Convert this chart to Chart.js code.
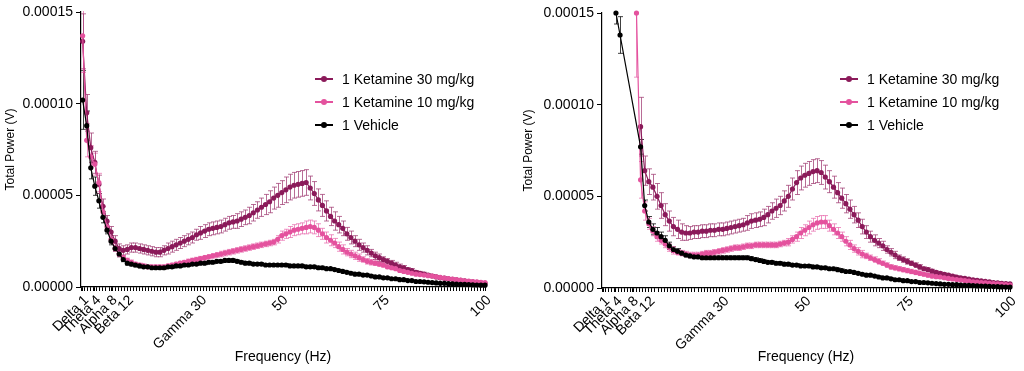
<!DOCTYPE html>
<html>
<head>
<meta charset="utf-8">
<script src="https://cdn.jsdelivr.net/npm/chart.js@4.4.0/dist/chart.umd.min.js"></script>
<style>
  body { margin:0; background:#fff; width:1024px; height:371px; overflow:hidden;
         font-family:"Liberation Sans", Arial, Helvetica, sans-serif; }
  .panel { position:absolute; top:0; width:512px; height:371px; }
  .legend { position:absolute; font-size:14px; color:#000; }
  .legend .row { position:relative; height:23px; line-height:18px; padding-left:27px; white-space:nowrap; }
  .legend .mk { position:absolute; left:0; top:8px; width:18px; height:1.5px; }
  .legend .mk i { position:absolute; left:6px; top:-2.5px; width:6px; height:6px; border-radius:50%; }
</style>
</head>
<body>
<div class="panel" style="left:0"><canvas id="left" width="512" height="371"></canvas></div>
<div class="panel" style="left:512px"><canvas id="right" width="512" height="371"></canvas></div>
<div class="legend" id="legLeft" style="left:315px;top:70px"></div>
<div class="legend" id="legRight" style="left:840px;top:70px"></div>
<script>
// values in microvolts (x 1e-6 V), one point per Hz
const freqHz = [1,2,3,4,5,6,7,8,9,10,11,12,13,14,15,16,17,18,19,20,
  21,22,23,24,25,26,27,28,29,30,31,32,33,34,35,36,37,38,39,40,
  41,42,43,44,45,46,47,48,49,50,51,52,53,54,55,56,57,58,59,60,
  61,62,63,64,65,66,67,68,69,70,71,72,73,74,75,76,77,78,79,80,
  81,82,83,84,85,86,87,88,89,90,91,92,93,94,95,96,97,98,99,100];

const seriesNames = ['1 Ketamine 30 mg/kg', '1 Ketamine 10 mg/kg', '1 Vehicle'];
const seriesColors = ['#8b1a5a', '#e4529e', '#000000'];
const errorColors = ['rgba(160,60,115,0.75)', 'rgba(232,110,175,0.75)', 'rgba(0,0,0,0.75)'];

const xTickValues = [1, 4, 8, 12, 30, 50, 75, 100];
const xTickLabels = ['Delta 1', 'Theta 4', 'Alpha 8', 'Beta 12', 'Gamma 30', '50', '75', '100'];
const yTickValues = [0, 50, 100, 150];

// left panel
const leftK30 = [134,95,76,68,56,44,36,30,25,21, 20,20.5,21.5,21.5,21,20.5,20,19.5,19,19,
  20,21,22,23,24,25,26,27,28.5,29.5, 30.5,31.5,32,32.5,33,34,35,35.5,36,37,
  38,39,40.5,42,43.5,45,46.5,48.5,50,51.5, 53,54.5,55.5,56,56.5,57,54,51,47.5,44.5,
  41.5,38.5,36,34,32,29,27,25,23,21.5, 20,18.5,17,16,15,14,13,12,11,10.5,
  9.5,9,8,7.5,7,6.5,6,5.5,5,4.8, 4.5,4.2,3.9,3.6,3.3,3,2.8,2.5,2.2,2];
const leftK30Err = [15,10,8,6,5,4,3,3,3,2.5, 2.5,2.5,2.5,2.5,2.5,2.5,2.5,2.5,2.5,2.5,
  2.5,3,3,3,3,3,3,3,3,3.5, 3.5,3.5,3.5,3.5,3.5,3.5,3.5,3.5,4,4,
  4,4.5,4.5,4.5,5,5.5,6,6,6.5,6.5, 7,7,7,7,7,7,6.5,6.5,6,6,
  5.5,5,5,4.5,4,3.5,3.5,3,3,2.5, 2.5,2,2,2,1.5,1.5,1.5,1.5,1.5,1.2,
  1,1,1,1,1,0.8,0.8,0.8,0.7,0.7, 0.6,0.6,0.5,0.5,0.5,0.5,0.4,0.4,0.4,0.4];
const leftK10 = [137,80,71,67,57,41,33,26,21,18, 16,14.5,13.5,12.5,12,11.5,11,11,11,11,
  11,11.5,12,12.5,13,13.5,14,14.5,15,15.5, 16,16.5,17,17.5,18,18.5,19,19.5,20,20.5,
  21,21.5,22,22.5,23,23.5,24,24.5,26,28, 29,30,31,31.5,32,32.5,33,32.5,31,29,
  27,25.5,24,22,20.5,19,18,17,16,15, 14,13.5,13,12.5,12,11,10.5,10,9,8.5,
  8,7.5,7,6.8,6.5,6.2,6,5.6,5.2,4.9, 4.6,4.3,4,3.7,3.4,3.2,3,2.8,2.6,2.4];
const leftK10Err = [20,9,6,6,5,3,2.5,2,1.5,1.5, 1.2,1.2,1.2,1,1,1,1,1,1,1,
  1,1,1,1,1,1,1.2,1.2,1.2,1.2, 1.2,1.2,1.2,1.2,1.5,1.5,1.5,1.5,1.5,1.5,
  1.5,1.5,1.5,1.5,1.5,1.5,1.5,1.5,2,2.5, 2.5,3,3,3,3,3.5,3.5,3.5,3.5,3,
  3,3,2.5,2.5,2.5,2,2,2,2,1.5, 1.5,1.5,1.2,1.2,1.2,1,1,1,1,0.8,
  0.8,0.8,0.7,0.7,0.7,0.6,0.6,0.6,0.5,0.5, 0.5,0.5,0.4,0.4,0.4,0.4,0.3,0.3,0.3,0.3];
const leftVeh = [102,88,65,55,47,38,31,25,21,18, 15,13,12.5,12,11.5,11,11,10.5,10.5,10.5,
  10.5,11,11,11.5,11.5,12,12,12.5,12.5,13, 13,13.5,13.5,14,14,14.5,14.5,14.5,14,13.5,
  13,13,12.5,12.5,12.5,12,12,12,12,12, 12,11.5,11.5,11.5,11.5,11,11,11,10.5,10.5,
  10,10,9.5,9,8.5,8,7.5,7,7,6.5, 6.5,6,5.5,5.5,5,5,4.5,4.5,4,4,
  3.5,3.5,3,3,2.8,2.6,2.4,2.2,2,2, 1.8,1.7,1.6,1.5,1.4,1.3,1.2,1.1,1,1];
const leftVehErr = [16,8,6,5,4,3,2,2,1.5,1.5, 1.2,1,1,1,1,0.8,0.8,0.8,0.8,0.8,
  0.8,0.8,0.8,0.8,0.8,0.8,0.8,0.8,0.8,0.8, 0.8,0.8,0.8,0.8,0.8,0.8,0.8,0.8,0.8,0.8,
  0.8,0.8,0.8,0.8,0.8,0.8,0.8,0.8,0.8,0.8, 0.8,0.8,0.8,0.8,0.8,0.8,0.8,0.8,0.8,0.8,
  0.6,0.6,0.6,0.6,0.6,0.6,0.6,0.6,0.6,0.6, 0.6,0.6,0.6,0.6,0.6,0.6,0.6,0.6,0.6,0.6,
  0.4,0.4,0.4,0.4,0.4,0.4,0.4,0.4,0.4,0.4, 0.4,0.4,0.4,0.4,0.4,0.4,0.4,0.4,0.4,0.4];

// right panel (low bins off scale are left out)
const rightK30 = [null,null,null,null,null,null,null,null,null,
  88,64,58,55,50,45,40,36.5,33.5,32, 30.5,30,30,30.5,30.5,31,31,31.5,31.5,32,
  32,32.5,33,33.5,34,34.5,35.5,36.5,37,37.5, 38.5,40,42,43.5,45,47.5,50,54,57.5,60,
  61.5,62.5,63.5,64,63,60.5,58,55,52,49, 46,43,40,37,33.5,30.5,28,26,24.5,23,
  21,19.5,18,16.5,15.5,14.5,13.5,12.5,11.5,10.5, 10,9.2,8.5,8,7.5,7,6.5,6,5.6,5.2,
  4.8,4.5,4.2,3.9,3.6,3.3,3,2.8,2.6,2.4,2.2];
const rightK30Err = [null,null,null,null,null,null,null,null,null,
  16,8,7,7,7,7,6,5.5,5,5, 4.5,4,3.5,3.5,3.5,3.5,3.5,3.5,3.5,3.5,
  3.5,3.5,3.5,3.5,3.5,3.5,4,4,4,4, 4.5,4.5,4.5,5,5,5.5,6,6,6.5,6.5,
  6.5,6.5,6.5,6.5,6.5,6.5,6,6,5.5,5.5, 5,5,4.5,4,4,3.5,3,3,2.5,2.5,
  2,2,2,1.5,1.5,1.5,1.2,1.2,1.2,1, 1,1,0.8,0.8,0.8,0.7,0.7,0.6,0.6,0.6,
  0.5,0.5,0.5,0.5,0.4,0.4,0.4,0.4,0.3,0.3,0.3];
const rightK10 = [null,null,null,null,null,null,null,null,
  150,59,42,35,31,28,26,24,22,20.5, 19.5,19,18.5,18,18,18,18.5,19,19,19.5,
  20,20.5,21,21.5,22,22,22.5,23,23,23.5, 23.5,23.5,23.5,23.5,23.5,24,24.5,25,26.5,28,
  30,31.5,33,34.5,35.5,36,36,34,32,30, 28,25.5,23.5,21.5,20,18.5,17.5,16.5,15.5,14.5,
  13.5,12.5,11.5,11,10.5,10,9.5,9,8.5,8, 7.5,7,6.5,6.2,6,5.6,5.2,4.9,4.6,4.3,
  4,3.7,3.4,3.2,3,2.8,2.6,2.4,2.2,2, 1.8,1.6];
const rightK10Err = [null,null,null,null,null,null,null,null,
  35,10,5,3,2.5,2.5,2,2,2,2, 1.5,1.5,1.5,1.5,1.5,1.5,1.5,1.5,1.5,1.5,
  1.5,1.5,1.5,1.5,1.5,1.5,1.5,1.5,1.5,1.5, 1.5,1.5,1.5,1.5,1.5,1.5,1.5,2,2,2.5,
  3,3,3.5,3.5,3.5,3.5,3.5,3,3,3, 2.5,2.5,2.5,2,2,2,1.5,1.5,1.5,1.5,
  1.2,1.2,1.2,1.2,1.2,1.2,1.2,1.2,1.2,1.2, 1,1,1,0.8,0.8,0.8,0.8,0.7,0.7,0.7,
  0.6,0.6,0.5,0.5,0.5,0.5,0.4,0.4,0.4,0.4, 0.3,0.3];
const rightVeh = [null,null,null,150,138,null,null,null,null,
  77,45,36,32,30,28,26,23,21,20, 19,18,17.5,17,17,16.5,16.5,16.5,16.5,16.5,
  16.5,16.5,16.5,16.5,16.5,16.5,16.5,16,15.5,15, 14.5,14,14,13.5,13.5,13,13,12.5,12.5,12,
  12,12,11.5,11.5,11,11,10.5,10.5,10,9.5, 9,9,8.5,8,7.5,7,7,6.5,6,5.5,
  5.5,5,4.5,4.5,4,4,3.5,3.5,3,3, 2.8,2.6,2.4,2.2,2,2,1.8,1.8,1.6,1.5,
  1.4,1.3,1.2,1.1,1,0.9,0.8,0.7,0.6,0.5,0.5];
const rightVehErr = [null,null,null,6,10,null,null,null,null,
  4,3,3,3,3,2.5,2.5,2,1.5,1.5, 1,1,1,1,1,1,1,1,1,1,
  1,1,1,1,1,1,1,1,1,1, 0.8,0.8,0.8,0.8,0.8,0.8,0.8,0.8,0.8,0.8,
  0.8,0.8,0.8,0.8,0.8,0.8,0.8,0.8,0.8,0.8, 0.6,0.6,0.6,0.6,0.6,0.6,0.6,0.6,0.6,0.6,
  0.6,0.6,0.6,0.6,0.6,0.6,0.6,0.6,0.6,0.6, 0.4,0.4,0.4,0.4,0.4,0.4,0.4,0.4,0.4,0.4,
  0.4,0.4,0.4,0.4,0.4,0.4,0.4,0.4,0.4,0.4,0.4];

const FONT = '"Liberation Sans", Arial, Helvetica, sans-serif';
Chart.defaults.font.family = FONT;
Chart.defaults.color = '#000';

// minor ticks along the x axis, plus the labelled ones
const minorStep = 0.75;
const xTicks = [];
for (let v = minorStep; v <= 100.01; v += minorStep) xTicks.push(+v.toFixed(2));
xTickValues.forEach(v => { if (!xTicks.includes(v)) xTicks.push(v); });
xTicks.sort((a, b) => a - b);

// SEM bars drawn under the lines
const errorBars = {
  id: 'errorBars',
  beforeDatasetsDraw(chart) {
    const { ctx, chartArea: a, scales: { x, y } } = chart;
    ctx.save();
    ctx.beginPath();
    ctx.rect(a.left, a.top - 1, a.right - a.left, a.bottom - a.top + 1);
    ctx.clip();
    chart.data.datasets.slice().reverse().forEach(ds => {
      ctx.strokeStyle = ds.errColor;
      ctx.lineWidth = 1;
      ds.data.forEach((p, i) => {
        const e = ds.errors[i];
        if (p.y == null || e == null) return;
        const px = Math.round(x.getPixelForValue(p.x)) + 0.5;
        const t = y.getPixelForValue(p.y + e), b = y.getPixelForValue(p.y - e);
        ctx.beginPath();
        ctx.moveTo(px, t); ctx.lineTo(px, b);
        ctx.moveTo(px - 2.5, t); ctx.lineTo(px + 2.5, t);
        ctx.moveTo(px - 2.5, b); ctx.lineTo(px + 2.5, b);
        ctx.stroke();
      });
    });
    ctx.restore();
  }
};

function dataset(i, vals, errs) {
  return {
    label: seriesNames[i],
    data: freqHz.map((f, k) => ({ x: f, y: vals[k] })),
    errors: errs,
    errColor: errorColors[i],
    borderColor: seriesColors[i],
    backgroundColor: seriesColors[i],
    borderWidth: 1.2,
    pointRadius: 2.6,
    pointBorderWidth: 0,
    pointBackgroundColor: seriesColors[i],
    spanGaps: true,
    clip: 4,
    order: 2 - i
  };
}

function makeChart(id, sets, o) {
  return new Chart(document.getElementById(id), {
    type: 'line',
    data: { datasets: sets },
    plugins: [errorBars],
    options: {
      responsive: false,
      animation: false,
      devicePixelRatio: 1,
      layout: { padding: { left: 0, top: o.top, right: o.right, bottom: 0 } },
      plugins: { legend: { display: false }, tooltip: { enabled: false } },
      scales: {
        x: {
          type: 'linear', min: 0.6, max: 100,
          afterBuildTicks: s => { s.ticks = xTicks.map(v => ({ value: v })); },
          afterFit: s => { s.height = o.xHeight; },
          ticks: {
            autoSkip: false, minRotation: 45, maxRotation: 45, padding: 1, labelOffset: 4,
            font: { size: 14 },
            callback: v => { const k = xTickValues.indexOf(v); return k < 0 ? '' : xTickLabels[k]; }
          },
          grid: { drawOnChartArea: false, drawTicks: true, tickLength: 4, color: '#000', lineWidth: 1 },
          border: { display: true, color: '#000', width: 1.2 },
          title: { display: true, text: 'Frequency (Hz)', font: { size: 14 }, padding: { top: 0, bottom: 5 } }
        },
        y: {
          min: 0, max: 150,
          afterBuildTicks: s => { s.ticks = yTickValues.map(v => ({ value: v })); },
          afterFit: s => { s.width = o.yWidth; },
          ticks: { padding: 3, font: { size: 14 }, callback: v => (v * 1e-6).toFixed(5) },
          grid: { drawOnChartArea: false, drawTicks: true, tickLength: 5, color: '#000', lineWidth: 1 },
          border: { display: true, color: '#000', width: 1.2 },
          title: { display: true, text: 'Total Power (V)', font: { size: 12 }, padding: { top: o.yTitlePad, bottom: 0 } }
        }
      }
    }
  });
}

makeChart('left', [
  dataset(0, leftK30, leftK30Err),
  dataset(1, leftK10, leftK10Err),
  dataset(2, leftVeh, leftVehErr)
], { top: 12, right: 27, xHeight: 84, yWidth: 81, yTitlePad: 3 });

makeChart('right', [
  dataset(0, rightK30, rightK30Err),
  dataset(1, rightK10, rightK10Err),
  dataset(2, rightVeh, rightVehErr)
], { top: 13, right: 14, xHeight: 83, yWidth: 90, yTitlePad: 9 });

function buildLegend(id) {
  const el = document.getElementById(id);
  seriesNames.forEach((name, i) => {
    const row = document.createElement('div');
    row.className = 'row';
    row.innerHTML = '<span class="mk" style="background:' + seriesColors[i] + '"><i style="background:' +
      seriesColors[i] + '"></i></span>' + name;
    el.appendChild(row);
  });
}
buildLegend('legLeft');
buildLegend('legRight');
</script>
</body>
</html>
